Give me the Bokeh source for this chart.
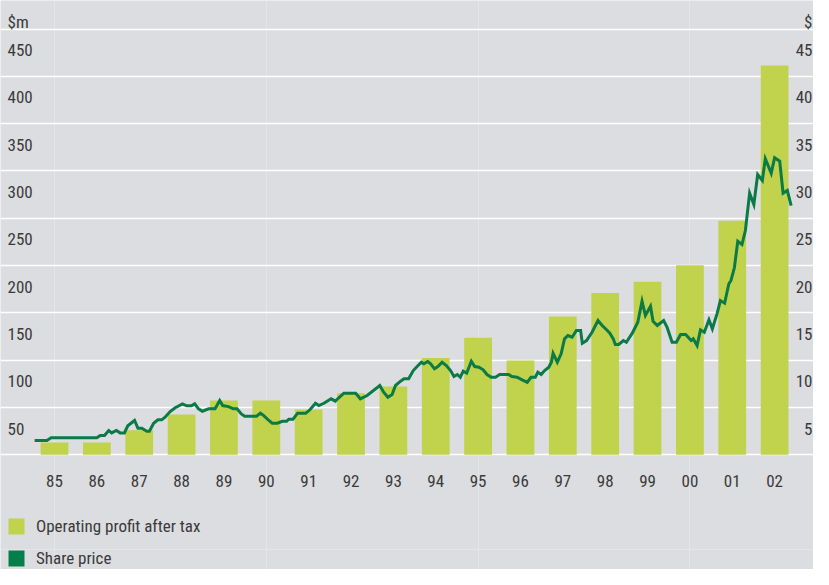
from bokeh.plotting import figure
from bokeh.models import Range1d, FixedTicker, Grid, Legend, LegendItem
from bokeh.core.properties import value
from bokeh.embed import file_html
from bokeh.resources import INLINE

# ---------------- data ----------------
years = [1985, 1986, 1987, 1988, 1989, 1990, 1991, 1992, 1993,
         1994, 1995, 1996, 1997, 1998, 1999, 2000, 2001, 2002]
year_labels = ["85", "86", "87", "88", "89", "90", "91", "92", "93",
               "94", "95", "96", "97", "98", "99", "00", "01", "02"]
profit = [13, 13, 26, 42.6, 57.5, 57.5, 48, 65, 72.3,
          102.3, 123.8, 99.8, 146.3, 171, 183, 200.5, 247.5, 411.5]

price_time = [1984.53, 1984.82, 1984.92, 1986.00, 1986.08, 1986.18, 1986.28, 1986.35, 1986.46,
              1986.55, 1986.65, 1986.73, 1986.89, 1986.97, 1987.06, 1987.18, 1987.24, 1987.34,
              1987.44, 1987.53, 1987.61, 1987.73, 1987.85, 1988.02, 1988.12, 1988.23, 1988.31,
              1988.40, 1988.49, 1988.64, 1988.79, 1988.90, 1988.97, 1989.11, 1989.22, 1989.31,
              1989.41, 1989.49, 1989.77, 1989.86, 1989.94, 1990.06, 1990.14, 1990.26, 1990.38,
              1990.48, 1990.53, 1990.63, 1990.74, 1990.93, 1991.03, 1991.16, 1991.24, 1991.36,
              1991.53, 1991.63, 1991.71, 1991.83, 1992.11, 1992.22, 1992.38, 1992.68, 1992.77,
              1992.87, 1992.97, 1993.05, 1993.17, 1993.25, 1993.36, 1993.47, 1993.56, 1993.66,
              1993.72, 1993.81, 1993.88, 1993.97, 1994.05, 1994.15, 1994.25, 1994.35, 1994.43,
              1994.51, 1994.58, 1994.65, 1994.73, 1994.84, 1994.92, 1995.02, 1995.12, 1995.21,
              1995.31, 1995.41, 1995.51, 1995.72, 1995.80, 1995.92, 1996.04, 1996.16, 1996.25,
              1996.35, 1996.41, 1996.49, 1996.57, 1996.67, 1996.73, 1996.77, 1996.87, 1996.96,
              1997.04, 1997.12, 1997.22, 1997.32, 1997.42, 1997.46, 1997.56, 1997.69, 1997.83,
              1997.93, 1998.05, 1998.11, 1998.19, 1998.24, 1998.32, 1998.43, 1998.50, 1998.64,
              1998.77, 1998.87, 1998.95, 1999.07, 1999.13, 1999.23, 1999.38, 1999.46, 1999.58,
              1999.68, 1999.78, 1999.90, 2000.03, 2000.08, 2000.17, 2000.25, 2000.34, 2000.45,
              2000.53, 2000.64, 2000.72, 2000.82, 2000.92, 2000.97, 2001.05, 2001.13, 2001.23,
              2001.31, 2001.41, 2001.51, 2001.60, 2001.71, 2001.78, 2001.92, 2002.00, 2002.12,
              2002.20, 2002.30, 2002.39]
share_price = [1.51, 1.51, 1.80, 1.80, 2.04, 2.04, 2.57, 2.32, 2.57,
               2.32, 2.32, 3.07, 3.63, 2.81, 2.81, 2.49, 2.49, 3.34,
               3.70, 3.70, 3.97, 4.58, 4.97, 5.39, 5.18, 5.18, 5.39,
               4.86, 4.61, 4.86, 4.86, 5.74, 5.21, 5.10, 4.86, 4.86,
               4.33, 4.08, 4.08, 4.40, 4.15, 3.63, 3.34, 3.34, 3.55,
               3.55, 3.76, 3.76, 4.40, 4.40, 4.76, 5.45, 5.21, 5.45,
               5.92, 5.67, 6.03, 6.51, 6.51, 5.92, 6.27, 7.33, 6.62,
               6.09, 6.37, 7.33, 7.78, 8.03, 8.03, 8.91, 9.33, 9.79,
               9.62, 9.86, 9.62, 9.09, 9.33, 9.79, 9.44, 8.91, 8.28,
               8.49, 8.20, 8.84, 8.63, 9.89, 9.33, 9.26, 8.99, 8.49,
               8.20, 8.20, 8.49, 8.49, 8.28, 8.20, 7.93, 7.67, 8.20,
               8.20, 8.73, 8.49, 8.91, 9.26, 9.79, 10.74, 9.79, 10.68,
               12.26, 12.61, 12.43, 13.14, 13.14, 11.80, 12.08, 12.96, 14.20,
               13.67, 13.14, 12.86, 12.26, 11.66, 11.66, 12.08, 11.90, 12.86,
               14.02, 16.24, 14.73, 15.71, 14.12, 13.67, 14.20, 13.49, 11.90,
               11.90, 12.72, 12.72, 12.08, 12.26, 11.55, 13.21, 12.96, 14.27,
               13.32, 14.90, 16.31, 16.03, 18.08, 18.43, 19.77, 22.58, 22.23,
               23.71, 27.65, 26.46, 29.63, 29.00, 31.29, 29.77, 31.40, 31.04,
               27.65, 27.94, 26.35]

left_ticks = [50, 100, 150, 200, 250, 300, 350, 400, 450]
left_tick_labels = ["50", "100", "150", "200", "250", "300", "350", "400", "450"]
right_ticks = [5, 10, 15, 20, 25, 30, 35, 40, 45]
right_tick_labels = ["5", "10", "15", "20", "25", "30", "35", "40", "45"]
grid_ticks = [0, 50, 100, 150, 200, 250, 300, 350, 400, 450]

# ---------------- style ----------------
BG = "#dcdde0"
BAR = "#c1d24c"
LINE = "#0a7a47"
LEG_GREEN = "#047e4a"
TXT = "#3a3a3a"
FONT_NAME = "Roboto Condensed"
FONT = value(FONT_NAME)
FS = "17px"

X0, X1 = 1983.725, 2002.918
Y0, Y1 = -121.2, 480.2

p = figure(width=813, height=569, x_range=Range1d(X0, X1), y_range=Range1d(Y0, Y1),
           min_border=0, x_axis_location=None, y_axis_location=None,
           toolbar_location=None, output_backend="svg",
           background_fill_color=BG, border_fill_color=BG, outline_line_color=None)
p.extra_y_ranges = {"price": Range1d(Y0 / 10.0, Y1 / 10.0)}

grid = Grid(dimension=1, ticker=FixedTicker(ticks=grid_ticks),
            grid_line_color="white", grid_line_width=1.4)
p.add_layout(grid)

bars = p.vbar(x=years, top=profit, width=0.655, bottom=0,
              fill_color=BAR, line_color=None)
p.line(x=price_time, y=share_price, y_range_name="price",
       line_color=LINE, line_width=3, line_join="miter")

# hidden renderer used only for the share price legend square
dummy = p.vbar(x=years, top=profit, width=0.5, fill_color=LEG_GREEN,
               line_color=None, visible=False)

# left tick labels
p.text(x=[X0] * len(left_ticks), y=left_ticks, text=left_tick_labels,
       text_font=FONT, text_font_size=FS, text_color=TXT,
       text_align="left", text_baseline="alphabetic", y_offset=21, x_offset=7)
p.text(x=[X0], y=[450], text=["$m"], text_font=FONT,
       text_font_size=FS, text_color=TXT, text_align="left",
       text_baseline="alphabetic", y_offset=-7, x_offset=7)

# right tick labels
p.text(x=[X1] * len(right_ticks), y=right_ticks, text=right_tick_labels,
       y_range_name="price", text_font=FONT, text_font_size=FS,
       text_color=TXT, text_align="right", text_baseline="alphabetic",
       y_offset=21, x_offset=-1)
p.text(x=[X1], y=[45], text=["$"], y_range_name="price", text_font=FONT,
       text_font_size=FS, text_color=TXT, text_align="right",
       text_baseline="alphabetic", y_offset=-7, x_offset=-1)

# x labels
p.text(x=years, y=[0] * len(years), text=year_labels, text_font=FONT,
       text_font_size=FS, text_color=TXT, text_align="center",
       text_baseline="alphabetic", y_offset=26)

legend = Legend(items=[LegendItem(label="Operating profit after tax", renderers=[bars]),
                       LegendItem(label="Share price", renderers=[dummy])],
                location=(6, 1), orientation="vertical",
                glyph_width=20, glyph_height=20, label_height=20,
                spacing=12, padding=0, margin=0, label_standoff=10,
                label_text_font=FONT_NAME, label_text_font_size=FS,
                label_text_color=TXT, label_text_baseline="middle",
                inactive_fill_alpha=0,
                background_fill_alpha=0, border_line_color=None)
p.add_layout(legend)

open("out.html", "w").write(file_html(p, INLINE))
